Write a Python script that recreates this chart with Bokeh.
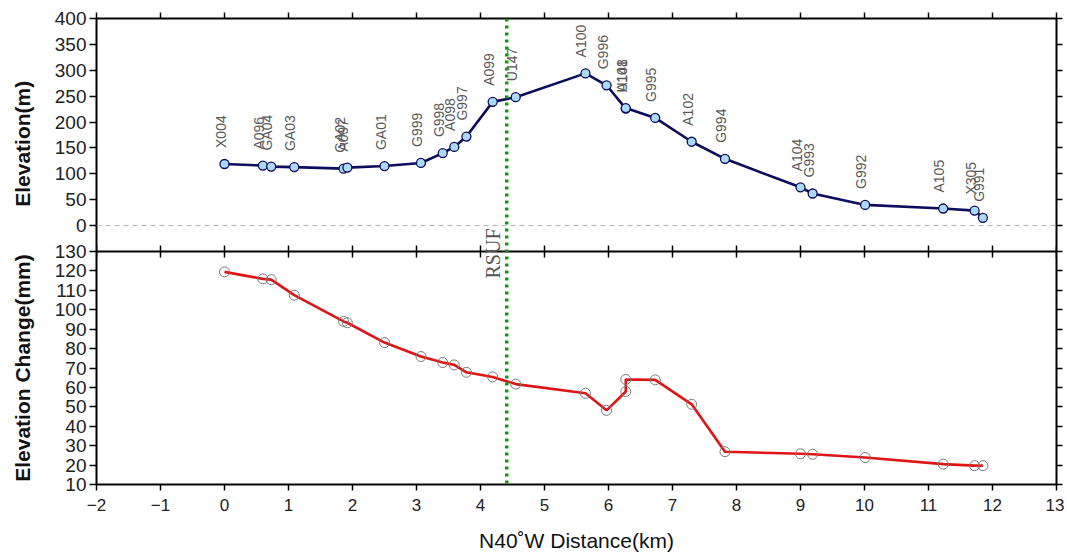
import math
from bokeh.plotting import figure
from bokeh.layouts import row
from bokeh.models import (Range1d, FixedTicker, Span, Label, LinearAxis,
                          ColumnDataSource)
from bokeh.embed import file_html
from bokeh.resources import INLINE
from bokeh.core.properties import value

# ---------------- data ----------------
stations = ["X004", "A096", "GA04", "GA03", "GA02", "A097", "GA01", "G999",
            "G998", "A098", "G997", "A099", "U147", "A100", "G996", "U148",
            "A101", "G995", "A102", "G994", "A104", "G993", "G992", "A105",
            "X305", "G991"]
distance_km = [0.00, 0.60, 0.73, 1.09, 1.86, 1.92, 2.50, 3.07, 3.41, 3.59,
               3.78, 4.19, 4.55, 5.64, 5.97, 6.27, 6.27, 6.73, 7.30, 7.82,
               9.00, 9.19, 10.01, 11.23, 11.72, 11.85]
elevation_m = [119, 116, 114, 113, 110, 112, 115, 121, 140, 152, 172, 239,
               248, 294, 271, 226, 227, 208, 162, 129, 74, 62, 40, 33, 29, 15]
elev_change_mm = [119.5, 115.9, 115.5, 107.5, 94.0, 93.3, 83.1, 75.9, 72.8,
                  71.6, 67.8, 65.4, 61.7, 57.0, 48.2, 57.9, 64.1, 63.9, 51.3,
                  26.9, 25.8, 25.6, 23.9, 20.5, 19.7, 19.7]
fault_km = 4.41
fault_name = "RSUF"

x_ticks = list(range(-2, 14))
elev_ticks = [0, 50, 100, 150, 200, 250, 300, 350, 400]
chg_ticks = [10, 20, 30, 40, 50, 60, 70, 80, 90, 100, 110, 120, 130]

# ---------------- panel geometry (two stacked panels in one frame) ----------
X_MIN, X_MAX = -2, 13
ELEV_MIN, ELEV_MAX = -50, 400          # upper panel
CHG_MIN, CHG_MAX = 10, 130             # lower panel
y_lo = ELEV_MIN - (ELEV_MAX - ELEV_MIN)  # primary range extended downward
chg_hi = CHG_MAX + (CHG_MAX - CHG_MIN)   # secondary range extended upward

TITLE_W = 45
FIG_W, FIG_H = 1064 - TITLE_W, 554
B_LEFT, B_RIGHT, B_TOP, B_BOTTOM = 96 - TITLE_W, 8, 18, 68
FRAME_H = FIG_H - B_TOP - B_BOTTOM
TICK = 6
tick_y = TICK * (ELEV_MAX - y_lo) / FRAME_H


def chg_to_primary(v):
    return y_lo + (v - CHG_MIN) * (ELEV_MAX - y_lo) / (chg_hi - CHG_MIN)


p = figure(width=FIG_W, height=FIG_H, x_range=Range1d(X_MIN, X_MAX),
           y_range=Range1d(y_lo, ELEV_MAX), output_backend="svg",
           toolbar_location=None, min_border_left=B_LEFT,
           min_border_right=B_RIGHT, min_border_top=B_TOP,
           min_border_bottom=B_BOTTOM)
p.extra_y_ranges = {"chg": Range1d(CHG_MIN, chg_hi)}
p.grid.visible = False
p.outline_line_color = "black"
p.outline_line_width = 2
p.background_fill_color = "white"
p.border_fill_color = "white"

# bottom x axis
xa = p.xaxis[0]
xa.ticker = FixedTicker(ticks=x_ticks)
xa.axis_line_color = None
xa.major_tick_out = TICK
xa.major_tick_in = 0
xa.minor_tick_line_color = None
xa.major_tick_line_width = 1.5
xa.major_label_text_font = "Liberation Sans"
xa.major_label_text_font_size = "17px"
xa.major_label_text_color = "#222222"
xa.major_label_standoff = 8
xa.axis_label = "N40˚W Distance(km)"
xa.axis_label_text_font = "Liberation Sans"
xa.axis_label_text_font_size = "21px"
xa.axis_label_text_font_style = "normal"
xa.axis_label_text_color = "#111111"
xa.axis_label_standoff = 15

# left y axis, carrying both panels' ticks
chg_pos = [chg_to_primary(v) for v in chg_ticks]
all_y_ticks = elev_ticks + chg_pos
ya = p.yaxis[0]
ya.ticker = FixedTicker(ticks=all_y_ticks)
ya.major_label_overrides = {pos: str(v) for pos, v in zip(chg_pos, chg_ticks)}
ya.axis_line_color = None
ya.major_tick_out = 7
ya.major_tick_in = 0
ya.major_tick_line_width = 1.5
ya.minor_tick_line_color = None
ya.major_label_text_font = "Liberation Sans"
ya.major_label_text_font_size = "19px"
ya.major_label_text_color = "#222222"
ya.major_label_standoff = 3

# top-edge and right-edge tick marks (labels not painted)
p.add_layout(LinearAxis(ticker=FixedTicker(ticks=x_ticks),
                        major_label_text_font_size="1px",
                        major_label_text_color=None, major_label_standoff=0,
                        axis_line_color=None, major_tick_out=TICK,
                        major_tick_in=0, major_tick_line_width=1.5,
                        minor_tick_line_color=None), "above")
p.add_layout(LinearAxis(ticker=FixedTicker(ticks=all_y_ticks),
                        major_label_text_font_size="1px",
                        major_label_text_color=None, major_label_standoff=0,
                        axis_line_color=None, major_tick_out=TICK,
                        major_tick_in=0, major_tick_line_width=1.5,
                        minor_tick_line_color=None), "right")

# panel separator and its ticks
p.add_layout(Span(location=ELEV_MIN, dimension="width", line_color="black",
                  line_width=2))
p.segment(x0=x_ticks, x1=x_ticks, y0=[ELEV_MIN - tick_y] * len(x_ticks),
          y1=[ELEV_MIN + tick_y] * len(x_ticks), line_color="black",
          line_width=1.5)

# zero line of elevation panel
p.add_layout(Span(location=0, dimension="width", line_color="#b0b0b0",
                  line_width=1, line_dash="5 4"))

src = ColumnDataSource(dict(x=distance_km, elev=elevation_m,
                            chg=elev_change_mm, name=stations))

# elevation profile
p.line("x", "elev", source=src, line_color="#0d0d5c", line_width=2.6)
p.scatter("x", "elev", source=src, size=9, fill_color="#a9daf7",
          line_color="#0d0d5c", line_width=1.3)
p.text("x", "elev", text="name", source=src, angle=math.pi / 2,
       text_align="left", text_baseline="middle", x_offset=-4, y_offset=-16,
       text_font=value("Liberation Sans"), text_font_size="14px",
       text_color="#595959")

# elevation change
p.line("x", "chg", source=src, y_range_name="chg", line_color="#e01414",
       line_width=2.6)
p.scatter("x", "chg", source=src, y_range_name="chg", size=10,
          fill_color=None, line_color="#7a7a7a", line_width=1)

# fault trace
p.add_layout(Span(location=fault_km, dimension="height", line_color="#139a13",
                  line_width=3.5, line_dash="3 4"))
p.add_layout(Label(x=fault_km, y=ELEV_MIN, text=fault_name, angle=math.pi / 2,
                   text_align="center", text_baseline="bottom", x_offset=-3,
                   y_offset=-2, text_font="Liberation Serif",
                   text_font_size="20px", text_color="#555555"))

# ---------------- strip on the left holding the two y-axis titles ----------
# the row aligns its frame with the main frame, so the same ranges apply
t = figure(width=TITLE_W, height=FIG_H, x_range=Range1d(0, TITLE_W),
           y_range=Range1d(y_lo, ELEV_MAX), output_backend="svg",
           toolbar_location=None, min_border=0)
t.extra_y_ranges = {"chg": Range1d(CHG_MIN, chg_hi)}
t.axis.visible = False
t.grid.visible = False
t.outline_line_color = None
t.border_fill_color = "white"
t.add_layout(Label(x=22, y=158, text="Elevation(m)",
                   angle=math.pi / 2, text_align="center",
                   text_baseline="middle", text_font="Liberation Sans",
                   text_font_style="bold", text_font_size="21px",
                   text_color="#111111"))
t.add_layout(Label(x=22, y=70, y_range_name="chg",
                   text="Elevation Change(mm)", angle=math.pi / 2,
                   text_align="center", text_baseline="middle",
                   text_font="Liberation Sans", text_font_style="bold",
                   text_font_size="21px", text_color="#111111"))

layout = row(t, p, spacing=0)
open("out.html", "w").write(file_html(layout, INLINE))
